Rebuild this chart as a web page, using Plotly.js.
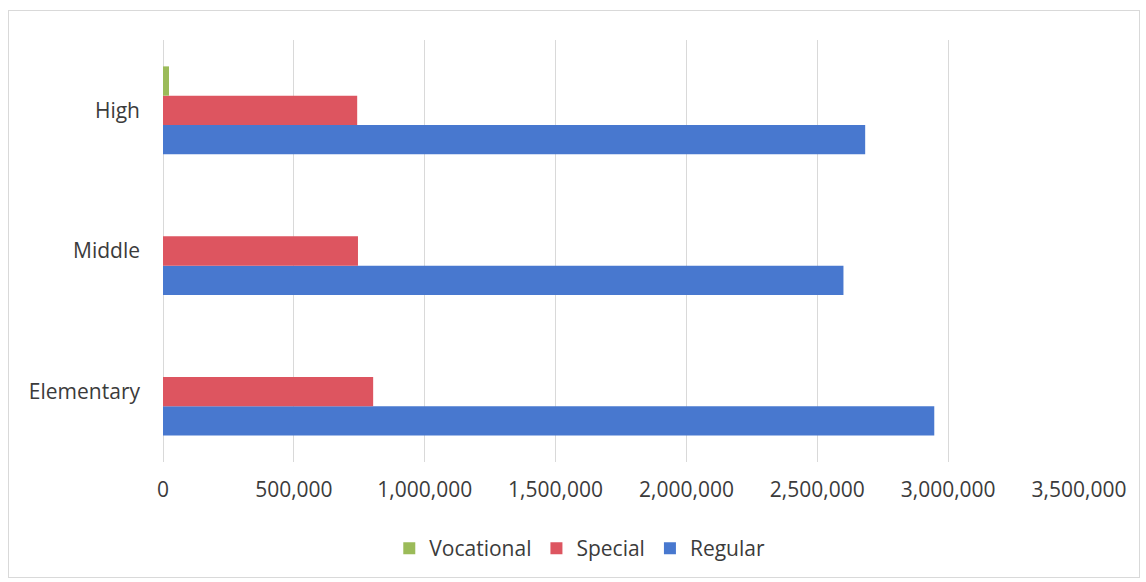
<!DOCTYPE html>
<html>
<head>
<meta charset="utf-8">
<script src="https://cdn.plot.ly/plotly-3.0.1.min.js"></script>
<style>
html,body{margin:0;padding:0;background:#fff;}
#wrap{position:relative;width:1146px;height:582px;}
#chart{width:1146px;height:582px;}
#frame{position:absolute;left:8px;top:10px;width:1130px;height:566px;border:1px solid #d9d9d9;pointer-events:none;}
</style>
</head>
<body>
<div id="wrap"><div id="chart"></div><div id="frame"></div></div>
<script>
const categories = ['Elementary', 'Middle', 'High'];
const regular = [2947000, 2600000, 2683000];
const special = [803000, 745000, 742000];
const vocational = [0, 0, 23000];
const xTicks = [0, 500000, 1000000, 1500000, 2000000, 2500000, 3000000, 3500000];
const xTickLabels = ['0', '500,000', '1,000,000', '1,500,000', '2,000,000', '2,500,000', '3,000,000', '3,500,000'];

const font = {family: 'Open Sans, Lato, sans-serif', size: 21, color: '#3b3b3b'};
const legendFont = {family: 'Open Sans, Lato, sans-serif', size: 21, color: '#3b3b3b'};

const traces = [
  {type: 'bar', orientation: 'h', name: 'Regular', y: categories, x: regular, marker: {color: '#4878CF'}},
  {type: 'bar', orientation: 'h', name: 'Special', y: categories, x: special, marker: {color: '#DD5560'}},
  {type: 'bar', orientation: 'h', name: 'Vocational', y: categories, x: vocational, marker: {color: '#9BBB59'}}
];

const layout = {
  width: 1146, height: 582,
  margin: {l: 163, r: 67, t: 40, b: 120},
  paper_bgcolor: '#fff', plot_bgcolor: '#fff',
  font: font,
  barmode: 'group', bargap: 0.375, bargroupgap: 0,
  showlegend: true,
  legend: {orientation: 'h', traceorder: 'reversed', x: 0.455, xanchor: 'center', y: -0.205, yanchor: 'middle', font: legendFont, itemwidth: 30},
  xaxis: {range: [0, 3500000], tickvals: xTicks, ticktext: xTickLabels, showgrid: true, gridcolor: '#d9d9d9', gridwidth: 1,
          zeroline: true, zerolinecolor: '#d9d9d9', showline: false, ticks: '', ticklabelstandoff: 13, fixedrange: true},
  yaxis: {categoryorder: 'array', categoryarray: categories, showgrid: false, zeroline: false, showline: false, ticks: '', ticklabelstandoff: 22}
};

Plotly.newPlot('chart', traces, layout, {displayModeBar: false, staticPlot: true});
</script>
</body>
</html>
